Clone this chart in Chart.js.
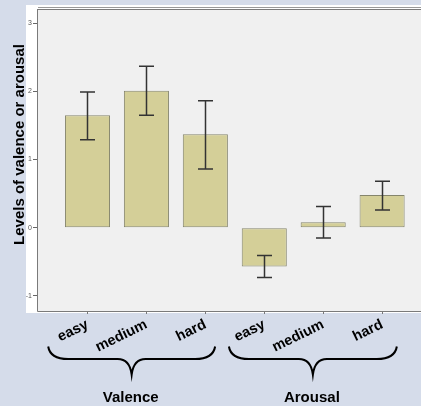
<!DOCTYPE html>
<html>
<head>
<meta charset="utf-8">
<script src="https://cdn.jsdelivr.net/npm/chart.js@4.4.1/dist/chart.umd.min.js"></script>
<style>
html,body{margin:0;padding:0;background:#d5dcea;overflow:hidden;}
#wrap{width:421px;height:406px;position:relative;}
</style>
</head>
<body>
<div id="wrap"><canvas id="chart" width="421" height="406"></canvas></div>
<script>
/* Data */
const categories = ["easy","medium","hard","easy","medium","hard"];
const groups = ["Valence","Arousal"];
const groupStart = [0,3];
const groupEnd = [2,5];
const means = [1.65,2.01,1.37,-0.57,0.08,0.48];
const errLow = [1.29,1.65,0.86,-0.73,-0.15,0.26];
const errHigh = [1.99,2.37,1.865,-0.41,0.31,0.68];
const yTicks = [-1,0,1,2,3];

const FONT = "'Liberation Sans', Arial, sans-serif";

/* background + frame */
const framePlugin = {
id:"frame",
beforeDraw(c){
const ctx=c.ctx, a=c.chartArea;
ctx.save();
ctx.fillStyle="#ffffff";
ctx.fillRect(26,5,c.width-26,a.bottom+2-5);
ctx.fillStyle="#f0f0f0";
ctx.fillRect(a.left,a.top,a.right-a.left,a.bottom-a.top);
ctx.restore();
},
afterDraw(c){
const ctx=c.ctx, a=c.chartArea;
ctx.save();
ctx.strokeStyle="#9a9a9a";
ctx.lineWidth=1;
ctx.beginPath();
ctx.moveTo(a.left,7.5);ctx.lineTo(a.right,7.5);
ctx.stroke();
ctx.strokeStyle="#7a7a7a";
ctx.beginPath();
ctx.moveTo(a.left-0.5,a.top+0.5);ctx.lineTo(a.right,a.top+0.5);
ctx.moveTo(a.left-0.5,a.top);ctx.lineTo(a.left-0.5,a.bottom+0.5);
ctx.lineTo(a.right,a.bottom+0.5);
ctx.stroke();

/* y title */
ctx.fillStyle="#000";
ctx.font="bold 15px "+FONT;
ctx.textAlign="center";
ctx.textBaseline="middle";
ctx.translate(20,144.5);
ctx.rotate(-Math.PI/2);
ctx.fillText("Levels of valence or arousal",0,0);
ctx.restore();

/* braces + group labels */
const x=c.scales.x;
const braceLeft=[-0.667,-0.6], braceRight=[0.166,0.25];
ctx.save();
ctx.strokeStyle="#000";
ctx.lineWidth=2;
groups.forEach((g,i)=>{
const L=x.getPixelForValue(groupStart[i]+braceLeft[i]);
const R=x.getPixelForValue(groupEnd[i]+braceRight[i]);
const M=(L+R)/2;
const y0=346.5, y1=359, y2=374.5;
ctx.beginPath();
ctx.moveTo(L,y0);
ctx.quadraticCurveTo(L+2,y1,L+20,y1);
ctx.lineTo(M-14,y1);
ctx.quadraticCurveTo(M-2,y1,M,y2);
ctx.quadraticCurveTo(M+2,y1,M+14,y1);
ctx.lineTo(R-20,y1);
ctx.quadraticCurveTo(R-2,y1,R,y0);
ctx.stroke();
ctx.fillStyle="#000";
ctx.font="bold 15px "+FONT;
ctx.textAlign="center";
ctx.textBaseline="alphabetic";
ctx.fillText(g,M-1,402);
});
ctx.restore();
}
};

/* error bars */
const errorBarPlugin = {
id:"errbars",
afterDatasetsDraw(c){
const ctx=c.ctx, y=c.scales.y;
const meta=c.getDatasetMeta(0);
ctx.save();
ctx.strokeStyle="#333";
ctx.lineWidth=1.5;
meta.data.forEach((bar,i)=>{
const px=Math.round(bar.x)+0.5;
const top=y.getPixelForValue(errHigh[i]);
const bot=y.getPixelForValue(errLow[i]);
ctx.beginPath();
ctx.moveTo(px,top);ctx.lineTo(px,bot);
ctx.moveTo(px-7.5,top);ctx.lineTo(px+7.5,top);
ctx.moveTo(px-7.5,bot);ctx.lineTo(px+7.5,bot);
ctx.stroke();
});
ctx.restore();
}
};

const chart=new Chart(document.getElementById("chart"),{
type:"bar",
data:{
datasets:[{
data:means.map((v,i)=>({x:i,y:v})),
backgroundColor:"#d4cf98",
borderColor:"#85856c",
borderWidth:1,
borderSkipped:false,
categoryPercentage:1,
barPercentage:0.765
}]
},
options:{
responsive:false,
animation:false,
layout:{padding:{top:9,right:0,left:0,bottom:0}},
plugins:{legend:{display:false},tooltip:{enabled:false}},
scales:{
x:{
type:"linear",
offset:false,
min:-0.84,
max:5.66,
afterBuildTicks(s){s.ticks=categories.map((c,i)=>({value:i}));},
afterFit(s){s.height=95;},
grid:{drawOnChartArea:false,drawTicks:true,tickLength:3,color:"#777",offset:false},
border:{display:false},
ticks:{
minRotation:26,maxRotation:26,
autoSkip:false,
padding:2,
color:"#000",
font:{family:FONT,size:14.5,weight:"bold"},
callback:(v)=>categories[v]
}
},
y:{
min:-1.223,
max:3.21,
afterBuildTicks(s){s.ticks=yTicks.map(v=>({value:v}));},
afterFit(s){s.width=38;},
grid:{drawOnChartArea:false,drawTicks:true,tickLength:5,color:"#666"},
border:{display:false},
ticks:{
padding:1,
color:"#555",
font:{family:FONT,size:7}
}
}
}
},
plugins:[framePlugin,errorBarPlugin]
});
</script>
</body>
</html>
